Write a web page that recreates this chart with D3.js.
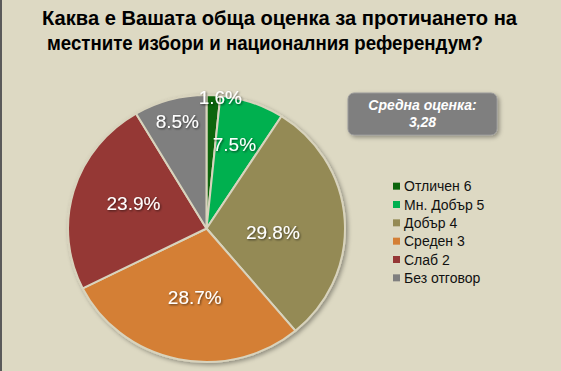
<!DOCTYPE html>
<html><head><meta charset="utf-8">
<script src="https://cdn.jsdelivr.net/npm/d3@7"></script>
<style>html,body{margin:0;padding:0;background:#ddd9c3;}svg{display:block;}</style>
</head><body>
<svg id="c" width="561" height="371"></svg>
<script>
const titleLines = ["Каква е Вашата обща оценка за протичането на", "местните избори и националния референдум?"];
const categories = ["Отличен 6", "Мн. Добър 5", "Добър 4", "Среден 3", "Слаб 2", "Без отговор"];
const values = [1.6, 7.5, 29.8, 28.7, 23.9, 8.5];
const colors = ["#0b650b", "#00b050", "#948a54", "#d47f35", "#953735", "#7f7f7f"];
const noteLines = ["Средна оценка:", "3,28"];
// layout: radial position of each label (fraction of radius) and angular nudge (degrees)
const labelFrac = [0.99, 0.66, 0.48, 0.52, 0.56, 0.83];
const labelNudge = [2.9, -1.5, 6.6, -2.3, 3.2, 0.6];

const svg = d3.select("#c");
svg.append("rect").attr("width",561).attr("height",371).attr("fill","#ddd9c3");
svg.append("rect").attr("x",0).attr("y",0).attr("width",2).attr("height",371).attr("fill","#5a5a5a");

const defs = svg.append("defs");
const f = defs.append("filter").attr("id","sh").attr("x","-20%").attr("y","-20%").attr("width","140%").attr("height","140%");
f.append("feDropShadow").attr("dx",2).attr("dy",2).attr("stdDeviation",2).attr("flood-color","#000").attr("flood-opacity",0.35);
const ft = defs.append("filter").attr("id","tsh").attr("x","-20%").attr("y","-20%").attr("width","140%").attr("height","140%");
ft.append("feDropShadow").attr("dx",1).attr("dy",1).attr("stdDeviation",0.8).attr("flood-color","#000").attr("flood-opacity",0.6);

// title
const titleSpan = [[42,475],[47,436]];
svg.append("g").selectAll("text").data(titleLines).join("text")
  .attr("x",(d,i)=> titleSpan[i][0])
  .attr("y",(d,i)=> 25 + i*25)
  .attr("textLength",(d,i)=>titleSpan[i][1]).attr("lengthAdjust","spacingAndGlyphs")
  .attr("font-family","Liberation Sans, Arial, sans-serif")
  .attr("font-weight","bold").attr("font-size",20).attr("fill","#000")
  .text(d=>d);

// pie
const cx = 206.5, cy = 228.5, r = 136, sx = 138.5/136, sy = 133.5/136;
const pie = d3.pie().sort(null).value(d=>d);
const arcs = pie(values);
const arc = d3.arc().innerRadius(0).outerRadius(r);
const g = svg.append("g").attr("transform",`translate(${cx},${cy}) scale(${sx},${sy})`);
g.append("g").attr("filter","url(#sh)").selectAll("path").data(arcs).join("path")
  .attr("d",arc).attr("fill",(d,i)=>colors[i])
  .attr("stroke","#d8d3bd").attr("stroke-width",2).attr("stroke-linejoin","round");

// labels
const ang = (d,i)=> (d.startAngle+d.endAngle)/2 + labelNudge[i]*Math.PI/180;
const lg = svg.append("g").attr("transform",`translate(${cx},${cy})`);
lg.selectAll("text").data(arcs).join("text")
  .attr("x",(d,i)=> Math.sin(ang(d,i))*r*labelFrac[i]*sx)
  .attr("y",(d,i)=> -Math.cos(ang(d,i))*r*labelFrac[i]*sy)
  .attr("dy","0.36em")
  .attr("text-anchor","middle")
  .attr("font-family","Liberation Sans, Arial, sans-serif")
  .attr("font-size",19).attr("fill","#fff").attr("filter","url(#tsh)")
  .text(d=>d.data.toFixed(1)+"%");

// note box
const nb = svg.append("g");
nb.append("rect").attr("x",348).attr("y",93).attr("width",149).attr("height",42).attr("rx",6)
  .attr("fill","#7f7f7f").attr("stroke","#9a9a9a").attr("stroke-width",1).attr("filter","url(#sh)");
nb.selectAll("text").data(noteLines).join("text")
  .attr("x",422.5).attr("y",(d,i)=>110+i*17)
  .attr("text-anchor","middle")
  .attr("font-family","Liberation Sans, Arial, sans-serif")
  .attr("font-weight","bold").attr("font-style","italic").attr("font-size",14).attr("fill","#fff")
  .text(d=>d);

// legend
const leg = svg.append("g");
const ly = d3.scaleBand().domain(categories).range([177,287]);
const items = leg.selectAll("g").data(categories).join("g")
  .attr("transform",d=>`translate(393,${ly(d)+ly.bandwidth()/2})`);
items.append("rect").attr("x",0).attr("y",-3.5).attr("width",7).attr("height",7).attr("fill",(d,i)=>colors[i]);
items.append("text").attr("x",11).attr("dy","0.36em")
  .attr("font-family","Liberation Sans, Arial, sans-serif").attr("font-size",14).attr("fill","#111")
  .text(d=>d);
</script>
</body></html>
